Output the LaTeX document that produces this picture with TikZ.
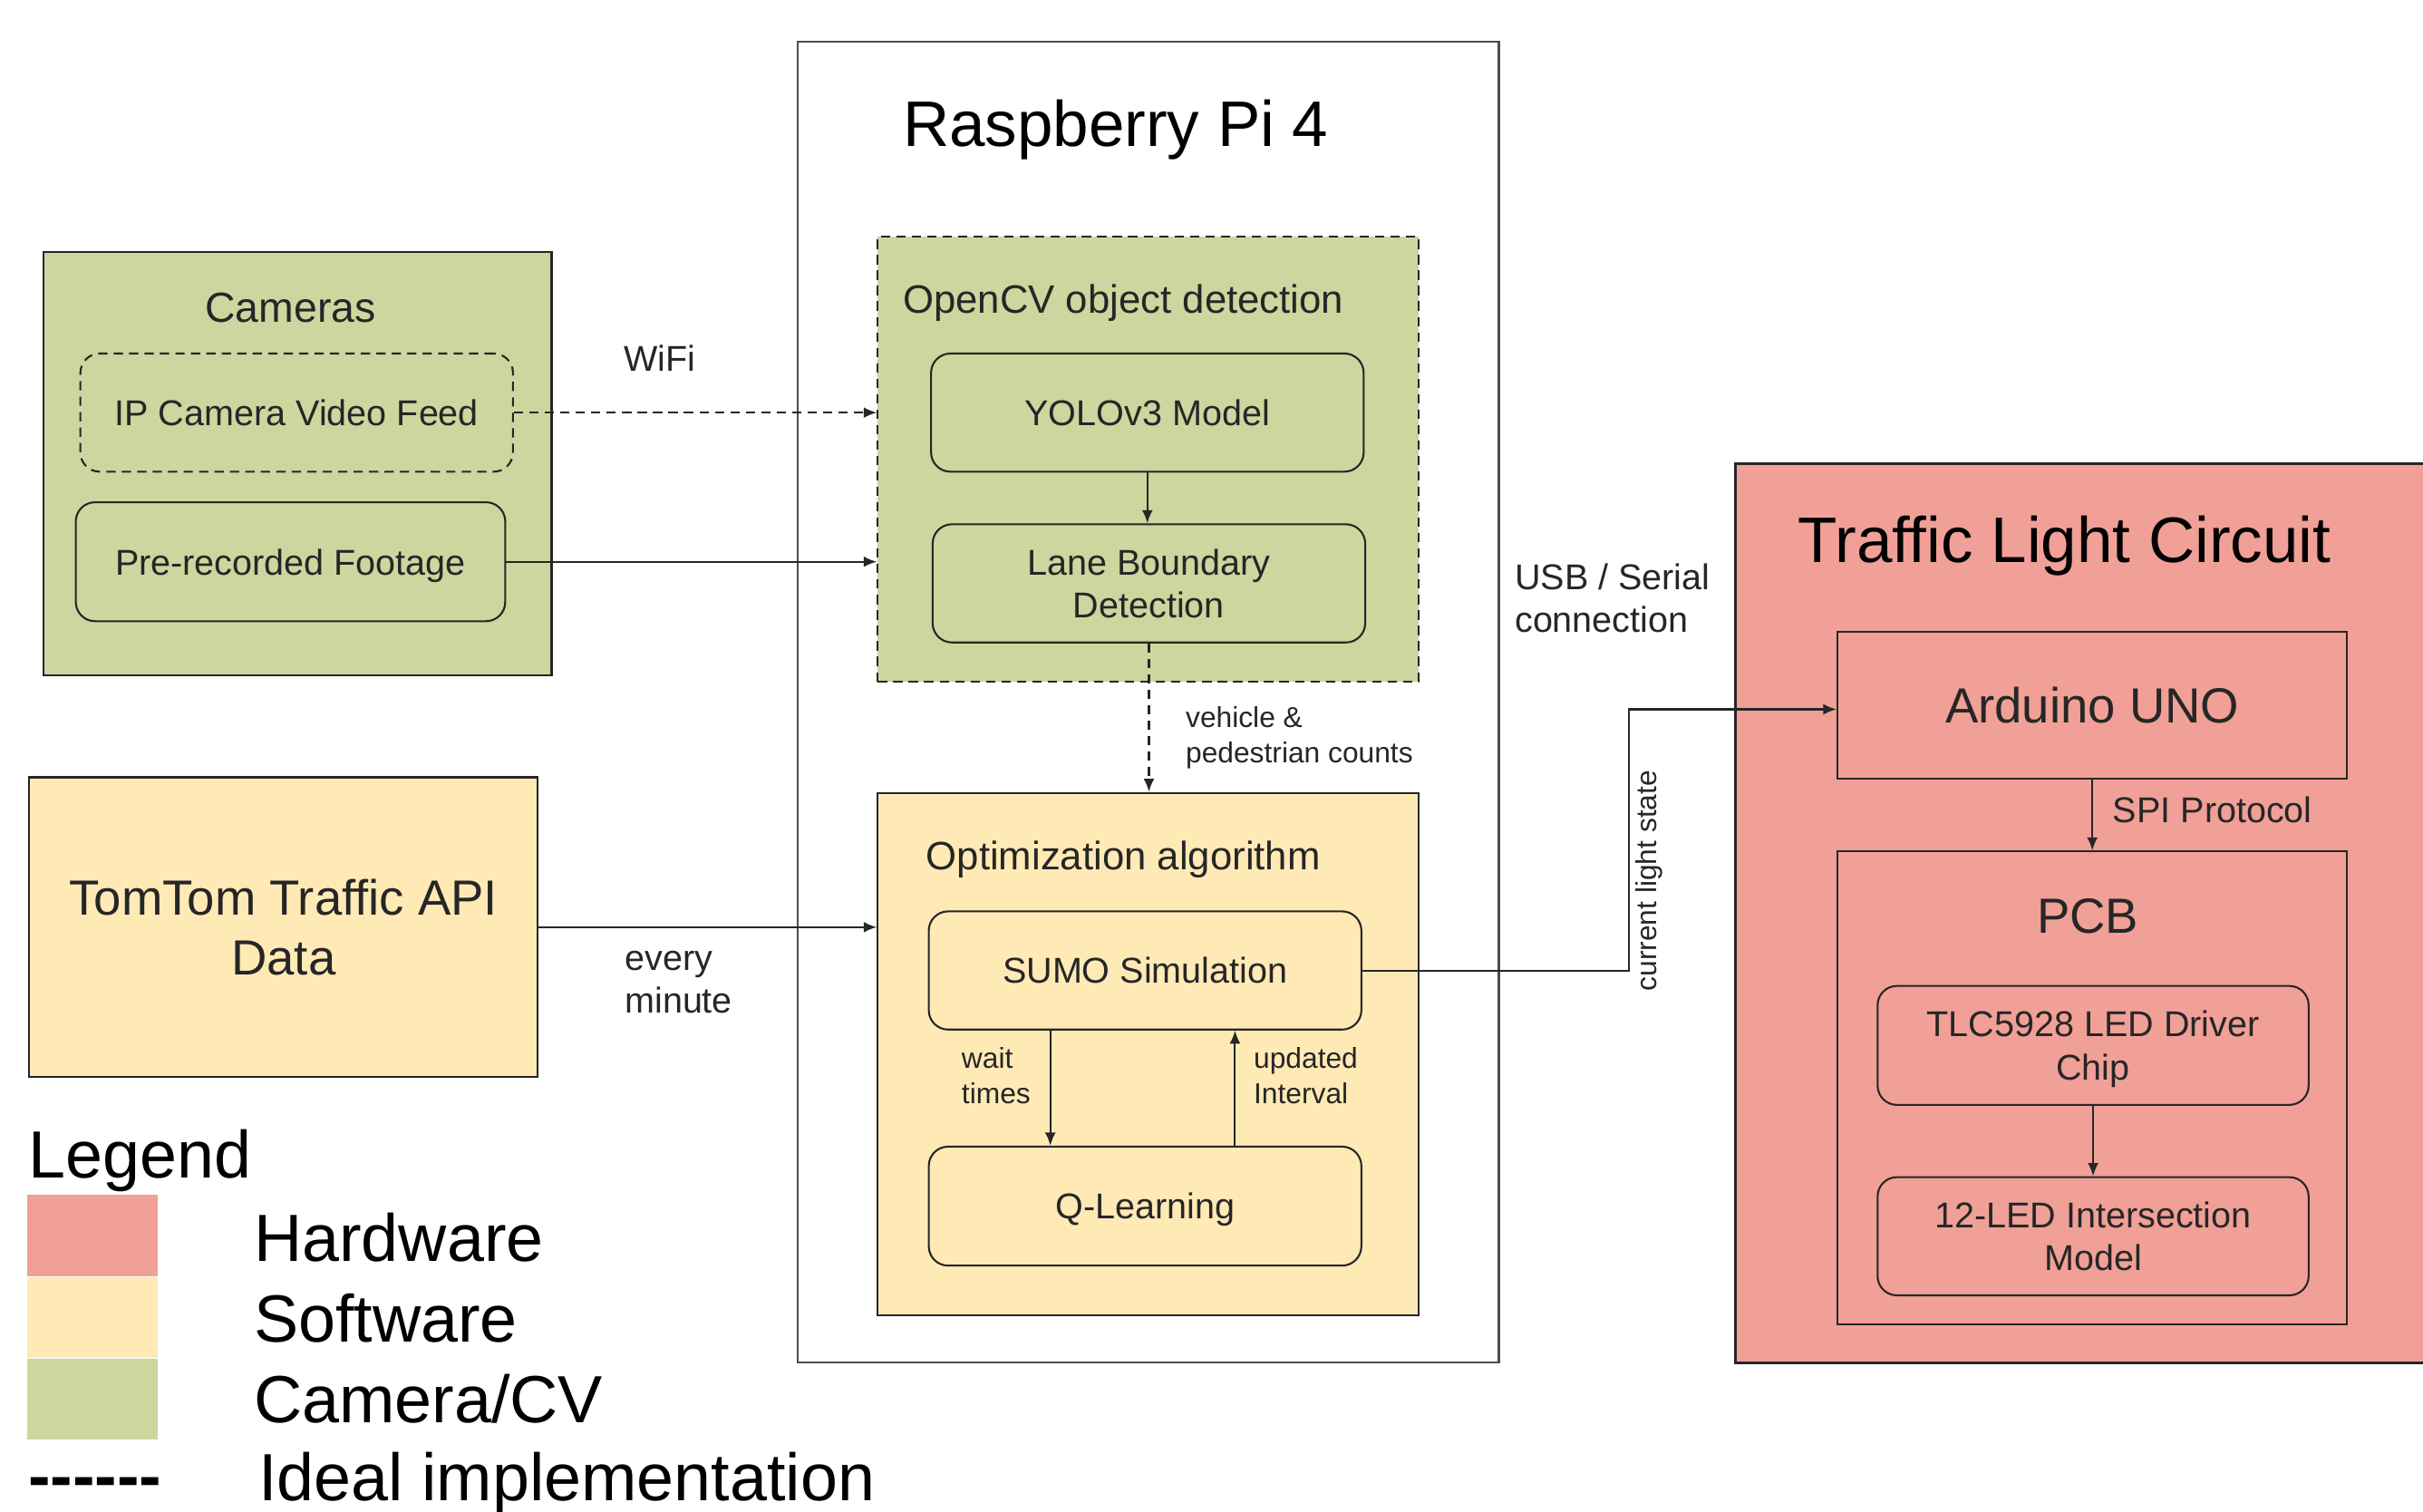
\documentclass[tikz,border=0pt]{standalone}
\usepackage{fontspec}
\setmainfont{Liberation Sans}
\usepackage{tikz}
\usetikzlibrary{calc}
\usetikzlibrary{arrows.meta}
\usetikzlibrary{positioning}

\definecolor{hwred}{RGB}{240,160,151}
\definecolor{swyellow}{RGB}{255,234,182}
\definecolor{cvgreen}{RGB}{204,214,158}

\newcommand\fshuge{\fontsize{23.7}{28}\selectfont}
\newcommand\fslegend{\fontsize{24.6}{29}\selectfont}
\newcommand\fsbig{\fontsize{18.2}{22}\selectfont}
\newcommand\fsapi{\fontsize{18.2}{22.2}\selectfont}
\newcommand\fscam{\fontsize{15.5}{18.5}\selectfont}
\newcommand\fstitle{\fontsize{14.6}{17.5}\selectfont}
\newcommand\fsbody{\fontsize{13.2}{15.9}\selectfont}
\newcommand\fssmall{\fontsize{10.6}{13}\selectfont}

\tikzset{
  group/.style={draw=black!85, line width=0.7pt, fill=#1, inner sep=0pt},
  group/.default=white,
  unit/.style={draw=black!85, line width=0.7pt, rounded corners=0.25cm,
    fill=#1, inner sep=0pt, minimum width=5.6cm, minimum height=1.53cm,
    font=\fsbody, text=black!85, align=center, text depth=0pt},
  unit/.default=white,
  ideal line/.style={dash pattern=on 1.2mm off 0.8mm},
  link/.style={line width=0.7pt, draw=black!85, -{Latex[length=1.7mm,width=1.4mm]}},
  ideal/.style={link, ideal line},
  lbl/.style={inner sep=0pt, text=black!85, align=left},
  swatch/.style={fill=#1, minimum width=1.7cm, minimum height=1.046cm, inner sep=0pt},
  keytext/.style={font=\fslegend, anchor=west, inner sep=0pt},
}

\begin{document}
\begin{tikzpicture}[x=0.02cm, y=-0.02cm]
  \useasboundingbox (0,0) rectangle (1568,978);

  % Raspberry Pi
  \node [group, draw=black!70, minimum width=9.08cm, minimum height=17.1cm] (rpi) at (743,454.5) {};
  \node [font=\fshuge] (rpititle) at (722,84) {Raspberry Pi 4};

  \node [group=cvgreen, ideal line, minimum width=7cm, minimum height=5.76cm] (cv) at (743,297) {};
  \node [lbl, font=\fstitle, anchor=west] (cvtitle) at (584,196) {OpenCV object detection};
  \node [unit=cvgreen] (yolo) at (742.5,267) {YOLOv3 Model};
  \node [unit=cvgreen] (lane) at (743.5,377.5) {Lane Boundary\\Detection};

  \node [group=swyellow, minimum width=7cm, minimum height=6.76cm] (opt) at (743,682) {};
  \node [lbl, font=\fstitle, anchor=west] (opttitle) at (599,556) {Optimization algorithm};
  \node [unit=swyellow] (sumo) at (741,628) {SUMO Simulation};
  \node [unit=swyellow, minimum height=1.54cm] (qlearn) at (741,780.5) {Q-Learning};

  % inputs
  \node [group=cvgreen, minimum width=6.58cm, minimum height=5.48cm] (cams) at (192.5,300) {};
  \node [lbl, font=\fscam] (camtitle) at (188,199) {Cameras};
  \node [unit=cvgreen, ideal line] (ipcam) at (192,267) {IP Camera Video Feed};
  \node [unit=cvgreen, minimum width=5.56cm, minimum height=1.54cm] (footage) at (188,363.5) {Pre-recorded Footage};

  \node [group=swyellow, minimum width=6.58cm, minimum height=3.88cm, font=\fsapi,
    text=black!85, align=center, text depth=0pt] (tomtom) at (183.5,600) {TomTom Traffic API\\Data};

  % traffic light circuit
  \node [group=hwred, minimum width=9.14cm, minimum height=11.64cm] (tlc) at (1351.5,591) {};
  \node [font=\fshuge] (tlctitle) at (1336,353) {Traffic Light Circuit};
  \node [group=hwred, minimum width=6.6cm, minimum height=1.9cm, font=\fsbig,
    text=black!85, text depth=0pt] (arduino) at (1354,456.5) {Arduino UNO};
  \node [group=hwred, minimum width=6.6cm, minimum height=6.12cm] (pcb) at (1354,704) {};
  \node [font=\fsbig, text=black!85] (pcbtitle) at (1351,593) {PCB};
  \node [unit=hwred, minimum width=5.58cm, minimum height=1.54cm] (driver) at (1354.5,676.5) {TLC5928 LED Driver\\Chip};
  \node [unit=hwred, minimum width=5.58cm] (ledmodel) at (1354.5,800) {12-LED Intersection\\Model};

  % connections
  \draw [ideal] (ipcam.east) -- (ipcam.east -| cv.west);
  \draw [link] (footage.east) -- (footage.east -| cv.west);
  \draw [link] (tomtom.east) -- (tomtom.east -| opt.west);
  \draw [link] (yolo.south) -- (yolo.south |- lane.north);
  \draw [ideal] (lane.south) -- (lane.south |- opt.north);
  \draw [link] ($(sumo.south west)!0.282!(sumo.south east)$) -- ($(qlearn.north west)!0.282!(qlearn.north east)$);
  \draw [link] ($(qlearn.north west)!0.707!(qlearn.north east)$) -- ($(sumo.south west)!0.707!(sumo.south east)$);
  \coordinate (usb) at (1054,459);
  \draw [link] (sumo.east) -| (usb) -- (usb -| arduino.west);
  \draw [link] (arduino.south) -- (pcb.north);
  \draw [link] (driver.south) -- (ledmodel.north);

  \node [lbl, font=\fsbody] (wifi) at (427,232) {WiFi};
  \node [lbl, font=\fsbody, anchor=west] (every) at (404,635.5) {every\\minute};
  \node [lbl, font=\fssmall, anchor=west] (counts) at (767,477.5) {vehicle \&\\pedestrian counts};
  \node [lbl, font=\fssmall, anchor=west] (wait) at (622,696) {wait\\times};
  \node [lbl, font=\fssmall, anchor=west] (upd) at (811,696) {updated\\Interval};
  \node [lbl, font=\fsbody, anchor=west] (serial) at (980,387) {USB / Serial\\connection};
  \node [lbl, font=\fssmall, rotate=90] (state) at (1067,570) {current light state};
  \node [lbl, font=\fsbody, anchor=west] (spi) at (1367,524) {SPI Protocol};

  % legend
  \node [keytext] (legend) at (18,751) {Legend};
  \node [swatch=hwred, anchor=north west] (keyhw) at (17,773) {};
  \node [swatch=swyellow, below=0pt of keyhw] (keysw) {};
  \node [swatch=cvgreen, below=0pt of keysw] (keycv) {};
  \node [keytext] (hwtext) at (164,801) {Hardware};
  \node [keytext] (swtext) at (164,853) {Software};
  \node [keytext] (cvtext) at (164,905) {Camera/CV};
  \node [keytext, font=\fslegend\bfseries, text height=0.35em, text depth=0pt] (dashkey) at (18,967) {-{}-{}-{}-{}-{}-};
  \node [keytext] (idealtext) at (167,960) {Ideal implementation};
\end{tikzpicture}
\end{document}
